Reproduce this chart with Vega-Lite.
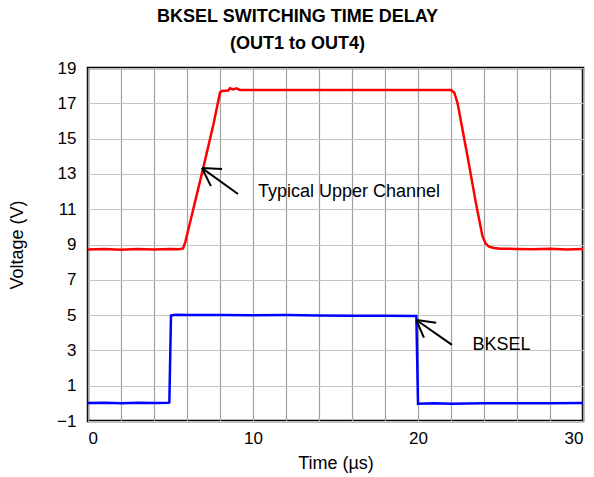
{
  "$schema": "https://vega.github.io/schema/vega-lite/v6.json",
  "width": 495,
  "height": 353,
  "autosize": {"type": "none"},
  "padding": {"left": 88, "top": 68, "right": 11, "bottom": 56},
  "background": "white",
  "config": {
    "font": "Liberation Sans",
    "view": {"stroke": "black", "strokeWidth": 2.5},
    "axis": {"domain": false, "ticks": false, "grid": true, "labelFont": "Liberation Sans", "titleFont": "Liberation Sans", "labelColor": "black", "titleColor": "black", "labelFontSize": 17, "titleFontSize": 18, "titleFontWeight": "normal", "gridWidth": 1.2, "labelOverlap": false, "labelBound": false}
  },
  "title": {
    "text": ["BKSEL SWITCHING TIME DELAY", "(OUT1 to OUT4)"],
    "font": "Liberation Sans",
    "fontSize": 18,
    "fontWeight": "bold",
    "color": "black",
    "anchor": "middle",
    "frame": "group",
    "dx": -38,
    "lineHeight": 27,
    "offset": 6
  },
  "datasets": {
    "traces": [
      {"t": 0, "v": 8.72, "s": "Upper"}, {"t": 1, "v": 8.75, "s": "Upper"}, {"t": 2, "v": 8.7, "s": "Upper"}, {"t": 3, "v": 8.74, "s": "Upper"}, {"t": 4, "v": 8.72, "s": "Upper"}, {"t": 5, "v": 8.75, "s": "Upper"}, {"t": 5.5, "v": 8.73, "s": "Upper"}, {"t": 5.76, "v": 8.78, "s": "Upper"}, {"t": 5.9, "v": 9.15, "s": "Upper"}, {"t": 6.2, "v": 10.3, "s": "Upper"}, {"t": 7.0, "v": 13.4, "s": "Upper"}, {"t": 7.6, "v": 15.8, "s": "Upper"}, {"t": 8.0, "v": 17.6, "s": "Upper"}, {"t": 8.1, "v": 17.7, "s": "Upper"}, {"t": 8.5, "v": 17.72, "s": "Upper"}, {"t": 8.6, "v": 17.85, "s": "Upper"}, {"t": 8.8, "v": 17.78, "s": "Upper"}, {"t": 9.0, "v": 17.85, "s": "Upper"}, {"t": 9.2, "v": 17.76, "s": "Upper"}, {"t": 10, "v": 17.75, "s": "Upper"}, {"t": 12, "v": 17.76, "s": "Upper"}, {"t": 14, "v": 17.75, "s": "Upper"}, {"t": 16, "v": 17.76, "s": "Upper"}, {"t": 18, "v": 17.75, "s": "Upper"}, {"t": 20, "v": 17.76, "s": "Upper"}, {"t": 22.0, "v": 17.75, "s": "Upper"}, {"t": 22.2, "v": 17.6, "s": "Upper"}, {"t": 22.4, "v": 17.0, "s": "Upper"}, {"t": 23.0, "v": 14.0, "s": "Upper"}, {"t": 23.5, "v": 11.4, "s": "Upper"}, {"t": 23.9, "v": 9.5, "s": "Upper"}, {"t": 24.1, "v": 9.05, "s": "Upper"}, {"t": 24.3, "v": 8.88, "s": "Upper"}, {"t": 24.6, "v": 8.8, "s": "Upper"}, {"t": 25, "v": 8.76, "s": "Upper"}, {"t": 26, "v": 8.75, "s": "Upper"}, {"t": 27, "v": 8.73, "s": "Upper"}, {"t": 28, "v": 8.76, "s": "Upper"}, {"t": 29, "v": 8.72, "s": "Upper"}, {"t": 30, "v": 8.75, "s": "Upper"},
      {"t": 0, "v": 0.02, "s": "BKSEL"}, {"t": 1, "v": 0.03, "s": "BKSEL"}, {"t": 2, "v": 0.0, "s": "BKSEL"}, {"t": 3, "v": 0.04, "s": "BKSEL"}, {"t": 4, "v": 0.02, "s": "BKSEL"}, {"t": 4.9, "v": 0.03, "s": "BKSEL"}, {"t": 4.93, "v": 0.05, "s": "BKSEL"}, {"t": 5.03, "v": 4.98, "s": "BKSEL"}, {"t": 5.3, "v": 5.02, "s": "BKSEL"}, {"t": 6, "v": 5.0, "s": "BKSEL"}, {"t": 8, "v": 5.01, "s": "BKSEL"}, {"t": 10, "v": 4.99, "s": "BKSEL"}, {"t": 12, "v": 5.0, "s": "BKSEL"}, {"t": 14, "v": 4.98, "s": "BKSEL"}, {"t": 16, "v": 4.97, "s": "BKSEL"}, {"t": 18, "v": 4.96, "s": "BKSEL"}, {"t": 19.9, "v": 4.95, "s": "BKSEL"}, {"t": 20.0, "v": -0.02, "s": "BKSEL"}, {"t": 21, "v": 0.0, "s": "BKSEL"}, {"t": 22, "v": -0.02, "s": "BKSEL"}, {"t": 24, "v": 0.0, "s": "BKSEL"}, {"t": 26, "v": 0.01, "s": "BKSEL"}, {"t": 28, "v": 0.0, "s": "BKSEL"}, {"t": 30, "v": 0.02, "s": "BKSEL"}
    ],
    "arrows": [
      {"t": 6.91, "v": 13.33, "t2": 9.09, "v2": 11.86},
      {"t": 6.91, "v": 13.33, "t2": 8.12, "v2": 13.28},
      {"t": 6.91, "v": 13.33, "t2": 7.45, "v2": 12.31},
      {"t": 19.9, "v": 4.72, "t2": 22.06, "v2": 3.31},
      {"t": 19.9, "v": 4.72, "t2": 21.1, "v2": 4.57},
      {"t": 19.9, "v": 4.72, "t2": 20.36, "v2": 3.72}
    ],
    "labels": [
      {"t": 10.3, "v": 11.97, "label": "Typical Upper Channel"},
      {"t": 23.3, "v": 3.3, "label": "BKSEL"}
    ]
  },
  "layer": [
    {
      "data": {"name": "traces"},
      "mark": {"type": "line", "strokeWidth": 2.5, "interpolate": "linear"},
      "encoding": {
        "x": {"field": "t", "type": "quantitative", "scale": {"domain": [0, 30], "nice": false, "zero": false},
          "axis": {"values": [0, 2, 4, 6, 8, 10, 12, 14, 16, 18, 20, 22, 24, 26, 28, 30], "tickCount": 100, "format": "d", "labelExpr": "datum.value % 10 == 0 ? datum.label : ''", "title": "Time (µs)", "grid": true, "gridColor": "#a0a0a0", "labelPadding": 9, "titlePadding": 8}},
        "y": {"field": "v", "type": "quantitative", "scale": {"domain": [-1, 19], "nice": false, "zero": false},
          "axis": {"values": [-1, 1, 3, 5, 7, 9, 11, 13, 15, 17, 19], "tickCount": 100, "format": "d", "labelExpr": "datum.value < 0 ? '\u22121' : datum.label", "title": "Voltage (V)", "grid": true, "gridColor": "#c4c4c4", "labelPadding": 12, "titlePadding": 30}},
        "color": {"field": "s", "type": "nominal", "scale": {"domain": ["Upper", "BKSEL"], "range": ["#ff0000", "#0000ff"]}, "legend": null}
      }
    },
    {
      "data": {"name": "arrows"},
      "mark": {"type": "rule", "color": "black", "strokeWidth": 2},
      "encoding": {
        "x": {"field": "t", "type": "quantitative"},
        "y": {"field": "v", "type": "quantitative"},
        "x2": {"field": "t2"},
        "y2": {"field": "v2"}
      }
    },
    {
      "data": {"name": "labels"},
      "mark": {"type": "text", "align": "left", "baseline": "middle", "fontSize": 18, "font": "Liberation Sans", "color": "black"},
      "encoding": {
        "x": {"field": "t", "type": "quantitative"},
        "y": {"field": "v", "type": "quantitative"},
        "text": {"field": "label"}
      }
    }
  ]
}
